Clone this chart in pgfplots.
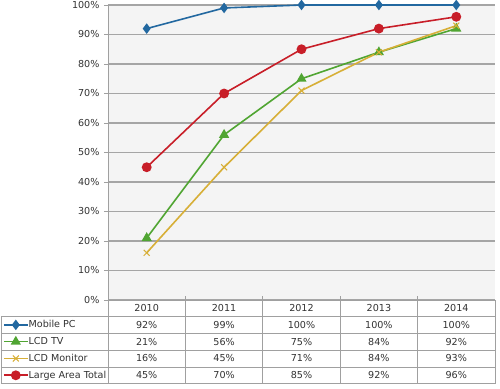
\documentclass[border=0pt]{standalone}
\usepackage{pgfplots}
\pgfplotsset{compat=1.18}
\usepackage{fontspec}
\setmainfont{DejaVu Sans}
\definecolor{cblue}{RGB}{34,104,160}
\definecolor{cgreen}{RGB}{80,165,50}
\definecolor{cgold}{RGB}{215,175,55}
\definecolor{cred}{RGB}{200,30,40}
\definecolor{gridgray}{RGB}{165,165,165}
\definecolor{tblgray}{RGB}{160,160,160}
\definecolor{plotbg}{RGB}{244,244,244}
\definecolor{labelgray}{RGB}{50,50,50}
\begin{document}
\begin{tikzpicture}[x=1pt,y=1pt]
\useasboundingbox (-108,-88) rectangle (392,300);
\begin{axis}[
  scale only axis, width=387pt, height=295pt,
  at={(0pt,0pt)}, anchor=south west,
  xmin=0.5, xmax=5.5, ymin=0, ymax=100,
  xtick=\empty,
  ytick={0,10,...,100},
  ytick pos=left,
  yticklabel={\pgfmathprintnumber{\tick}\%},
  /pgf/number format/assume math mode=true,
  tick align=outside, major tick length=4pt,
  tick style={draw=tblgray, line width=0.8pt},
  ymajorgrids, grid style={draw=gridgray, line width=1.1pt},
  axis line style={draw=none},
  axis background/.style={fill=plotbg},
  tick label style={font=\fontsize{9.6}{11.5}\selectfont, text=labelgray},
  yticklabel style={xshift=-1pt},
  clip=false,
  legend style={at={(axis description cs:-0.2713,-0.0559)}, anchor=north west,
    draw=none, fill=none, font=\fontsize{9.6}{11.5}\selectfont, text=labelgray,
    inner sep=0pt, outer sep=0pt,
    row sep=0pt, nodes={inner sep=0pt, minimum height=16.8pt},
    /tikz/every odd column/.append style={column sep=0pt}},
  legend image code/.code={\draw[mark repeat=2,mark phase=2] plot coordinates {(0pt,0pt)(12pt,0pt)(24pt,0pt)};},
  legend cell align=left,
]
\addplot[cblue, line width=1.6pt, mark=diamond*, mark size=4pt] coordinates {(1,92)(2,99)(3,100)(4,100)(5,100)};
\addlegendentry{Mobile PC}
\addplot[cgreen, line width=1.6pt, mark=triangle*, mark size=4.3pt] coordinates {(1,21)(2,56)(3,75)(4,84)(5,92)};
\addlegendentry{LCD TV}
\addplot[cgold, line width=1.6pt, mark=x, mark size=4.2pt, mark options={line width=1pt}] coordinates {(1,16)(2,45)(3,71)(4,84)(5,93)};
\addlegendentry{LCD Monitor}
\addplot[cred, line width=1.6pt, mark=*, mark size=4.1pt] coordinates {(1,45)(2,70)(3,85)(4,92)(5,96)};
\addlegendentry{Large Area Total}
\end{axis}
% axis line and table
\draw[tblgray, line width=0.9pt] (0,0) -- (0,295);
\draw[tblgray, line width=0.9pt] (0,0) -- (387,0);
\foreach \yy in {-16.5,-33.3,-50,-67,-83.5}{\draw[tblgray, line width=0.9pt] (-107,\yy) -- (387,\yy);}
\draw[tblgray, line width=0.9pt] (-107,-16.5) -- (-107,-83.5);
\draw[tblgray, line width=0.9pt] (0,0) -- (0,-83.5);
\foreach \xx in {77.4,154.8,232.2,309.6}{\draw[tblgray, line width=0.9pt] (\xx,4) -- (\xx,-83.5);}
\draw[tblgray, line width=0.9pt] (387,0) -- (387,-83.5);
\begin{scope}[every node/.style={font=\fontsize{9.6}{11.5}\selectfont, text=labelgray, inner sep=0pt}]
\foreach \c/\t in {1/2010,2/2011,3/2012,4/2013,5/2014}{\node at ({(\c-0.5)*77.4},-8.3) {\t};}
\foreach \c/\t in {1/92,2/99,3/100,4/100,5/100}{\node at ({(\c-0.5)*77.4},-24.9) {\t\%};}
\foreach \c/\t in {1/21,2/56,3/75,4/84,5/92}{\node at ({(\c-0.5)*77.4},-41.6) {\t\%};}
\foreach \c/\t in {1/16,2/45,3/71,4/84,5/93}{\node at ({(\c-0.5)*77.4},-58.5) {\t\%};}
\foreach \c/\t in {1/45,2/70,3/85,4/92,5/96}{\node at ({(\c-0.5)*77.4},-75.2) {\t\%};}
\end{scope}
\end{tikzpicture}
\end{document}
